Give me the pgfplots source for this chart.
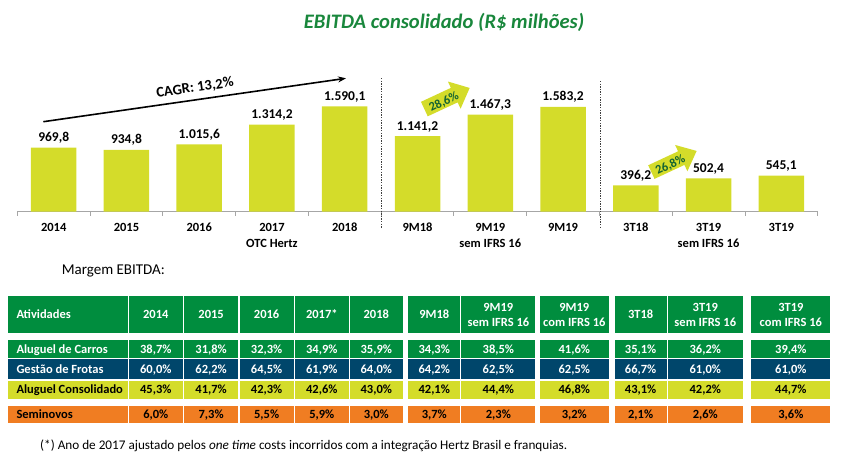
\documentclass[border=0pt]{standalone}
\usepackage{pgfplots}
\pgfplotsset{compat=1.18}
\usepackage{fontspec}
\setmainfont{Carlito}
\usetikzlibrary{arrows.meta}
\definecolor{barc}{RGB}{212,220,42}
\definecolor{hgreen}{RGB}{0,141,62}
\definecolor{navy}{RGB}{0,70,107}
\definecolor{orng}{RGB}{240,125,34}
\definecolor{tgreen}{RGB}{25,135,60}
\definecolor{agreen}{RGB}{20,100,50}
\newcommand{\setrow}[2]{\def\ya{#1+0.6}\def\yb{#2-0.6}\def\ym{(#1+#2)/2}}
\newcommand{\cl}[5]{\fill[#3] ({#1+0.6},{\ya}) rectangle ({#2-0.6},{\yb});
  \node[text=#4, anchor=base] at ({(#1+#2)/2},{\ym+4.2}) {#5};}
\newcommand{\hc}[3]{\fill[hgreen] ({#1+0.6},{295.6}) rectangle ({#2-0.6},{333.4});
  \node[text=white, align=center] at ({(#1+#2)/2},{314.5}) {#3};}
\begin{document}
\begin{tikzpicture}[x=1pt,y=-1pt]
\path[use as bounding box] (0,0) rectangle (842,460);
\node[font=\fontsize{20.6}{24}\selectfont\bfseries\itshape, text=tgreen] at (444,22) {EBITDA consolidado (R\$ milhões)};
% growth arrows (drawn first, under the value labels)
\begin{scope}[shift={(447,98.5)}, rotate=25]
\fill[barc] (-25,-8) -- (8,-8) -- (8,-15) -- (25,0) -- (8,15) -- (8,8) -- (-25,8) -- cycle;
\end{scope}
\node[font=\fontsize{12.5}{15}\selectfont\bfseries, text=agreen, rotate=26] at (444,102) {28,6\%};
\begin{scope}[shift={(674,161.5)}, rotate=25]
\fill[barc] (-25,-7.5) -- (8,-7.5) -- (8,-14.5) -- (25,0) -- (8,14.5) -- (8,7.5) -- (-25,7.5) -- cycle;
\end{scope}
\node[font=\fontsize{12.5}{15}\selectfont\bfseries, text=agreen, rotate=26] at (670.5,165) {26,8\%};
\begin{axis}[
  at={(17.3pt,-211.7pt)}, anchor=south west,
  scale only axis, width=800.4pt, height=132.4pt,
  xmin=-0.5, xmax=10.5, ymin=0, ymax=2000,
  hide y axis, axis x line*=bottom,
  x axis line style={-, draw=black!35, line width=0.8pt},
  xtick={0,...,10},
  xticklabels={2014,2015,2016,{2017\\OTC Hertz},2018,9M18,{9M19\\sem IFRS 16},9M19,3T18,{3T19\\sem IFRS 16},3T19},
  major tick length=0pt,
  minor xtick={-0.5,0.5,...,10.5},
  minor tick length=4pt, tick align=outside,
  tick style={draw=black!35, line width=0.8pt},
  xticklabel style={font=\fontsize{12.5}{15.7}\selectfont\bfseries, align=center, anchor=north, yshift=-8pt},
  ybar, bar width=45.5pt,
  nodes near coords={\pgfmathprintnumber[fixed,fixed zerofill,precision=1,use comma,1000 sep={.},assume math mode=true]{\pgfplotspointmeta}},
  nodes near coords style={font=\fontsize{13.5}{16}\selectfont\bfseries, anchor=base, yshift=6pt, text=black, inner sep=0pt},
  clip=false,
]
\addplot[fill=barc, draw=none] coordinates {
 (0,969.8) (1,934.8) (2,1015.6) (3,1314.2) (4,1590.1)
 (5,1141.2) (6,1467.3) (7,1583.2)
 (8,396.2) (9,502.4) (10,545.1)};
\end{axis}
% dashed separators
\draw[black!75, line width=0.8pt, dash pattern=on 1.3pt off 1.3pt] (381.7,78) -- (381.7,228);
\draw[black!75, line width=0.8pt, dash pattern=on 1.3pt off 1.3pt] (600,81) -- (600,228);
% CAGR arrow
\draw[line width=1.6pt, -{Stealth[length=8pt,width=6pt]}] (43.3,121.7) -- (346,78.3);
\node[font=\fontsize{14.6}{18}\selectfont\bfseries, rotate=8.2] at (195,88) {CAGR: 13,2\%};
% table
\node[anchor=west, font=\fontsize{15}{18}\selectfont] at (58.3,270.5) {Margem EBITDA:};
\begin{scope}[every node/.style={font=\fontsize{12.5}{15}\selectfont\bfseries}]
\fill[hgreen] (7.9,295.6) rectangle (127.7,333.4);
\node[text=white, anchor=west] at (13,314.5) {Atividades};
\hc{128.3}{183.3}{2014}
\hc{183.3}{239}{2015}
\hc{239}{294.3}{2016}
\hc{294.3}{349.3}{2017*}
\hc{349.3}{403.3}{2018}
\hc{407.8}{460.7}{9M18}
\hc{460.7}{536}{9M19\\sem IFRS 16}
\hc{539.3}{609.3}{9M19\\com IFRS 16}
\hc{614}{667.3}{3T18}
\hc{667.3}{743.3}{3T19\\sem IFRS 16}
\hc{750.7}{831}{3T19\\com IFRS 16}
% row 1
\setrow{339.3}{358.7}
\fill[hgreen] ({7.3+0.6},{\ya}) rectangle ({128.3-0.6},{\yb});
\node[text=white, anchor=base west] at (13,{\ym+4.2}) {Aluguel de Carros};
\cl{128.3}{183.3}{hgreen}{white}{38,7\%}
\cl{183.3}{239}{hgreen}{white}{31,8\%}
\cl{239}{294.3}{hgreen}{white}{32,3\%}
\cl{294.3}{349.3}{hgreen}{white}{34,9\%}
\cl{349.3}{403.3}{hgreen}{white}{35,9\%}
\cl{407.8}{460.7}{hgreen}{white}{34,3\%}
\cl{460.7}{536}{hgreen}{white}{38,5\%}
\cl{539.3}{609.3}{hgreen}{white}{41,6\%}
\cl{614}{667.3}{hgreen}{white}{35,1\%}
\cl{667.3}{743.3}{hgreen}{white}{36,2\%}
\cl{750.7}{831}{hgreen}{white}{39,4\%}
% row 2
\setrow{358.7}{380}
\fill[navy] ({7.3+0.6},{\ya}) rectangle ({128.3-0.6},{\yb});
\node[text=white, anchor=base west] at (13,{\ym+4.2}) {Gestão de Frotas};
\cl{128.3}{183.3}{navy}{white}{60,0\%}
\cl{183.3}{239}{navy}{white}{62,2\%}
\cl{239}{294.3}{navy}{white}{64,5\%}
\cl{294.3}{349.3}{navy}{white}{61,9\%}
\cl{349.3}{403.3}{navy}{white}{64,0\%}
\cl{407.8}{460.7}{navy}{white}{64,2\%}
\cl{460.7}{536}{navy}{white}{62,5\%}
\cl{539.3}{609.3}{navy}{white}{62,5\%}
\cl{614}{667.3}{navy}{white}{66,7\%}
\cl{667.3}{743.3}{navy}{white}{61,0\%}
\cl{750.7}{831}{navy}{white}{61,0\%}
% row 3
\setrow{380}{399.3}
\fill[barc] ({7.3+0.6},{\ya}) rectangle ({128.3-0.6},{\yb});
\node[text=black, anchor=base west] at (13,{\ym+4.2}) {Aluguel Consolidado};
\cl{128.3}{183.3}{barc}{black}{45,3\%}
\cl{183.3}{239}{barc}{black}{41,7\%}
\cl{239}{294.3}{barc}{black}{42,3\%}
\cl{294.3}{349.3}{barc}{black}{42,6\%}
\cl{349.3}{403.3}{barc}{black}{43,0\%}
\cl{407.8}{460.7}{barc}{black}{42,1\%}
\cl{460.7}{536}{barc}{black}{44,4\%}
\cl{539.3}{609.3}{barc}{black}{46,8\%}
\cl{614}{667.3}{barc}{black}{43,1\%}
\cl{667.3}{743.3}{barc}{black}{42,2\%}
\cl{750.7}{831}{barc}{black}{44,7\%}
% row 4
\setrow{405}{423.3}
\fill[orng] ({7.3+0.6},{\ya}) rectangle ({128.3-0.6},{\yb});
\node[text=black, anchor=base west] at (13,{\ym+4.2}) {Seminovos};
\cl{128.3}{183.3}{orng}{black}{6,0\%}
\cl{183.3}{239}{orng}{black}{7,3\%}
\cl{239}{294.3}{orng}{black}{5,5\%}
\cl{294.3}{349.3}{orng}{black}{5,9\%}
\cl{349.3}{403.3}{orng}{black}{3,0\%}
\cl{407.8}{460.7}{orng}{black}{3,7\%}
\cl{460.7}{536}{orng}{black}{2,3\%}
\cl{539.3}{609.3}{orng}{black}{3,2\%}
\cl{614}{667.3}{orng}{black}{2,1\%}
\cl{667.3}{743.3}{orng}{black}{2,6\%}
\cl{750.7}{831}{orng}{black}{3,6\%}
\end{scope}
\node[anchor=west, font=\fontsize{13.2}{15}\selectfont] at (36.7,445.7) {(*) Ano de 2017 ajustado pelos \textit{one time} costs incorridos com a integração Hertz Brasil e franquias.};
\end{tikzpicture}
\end{document}
